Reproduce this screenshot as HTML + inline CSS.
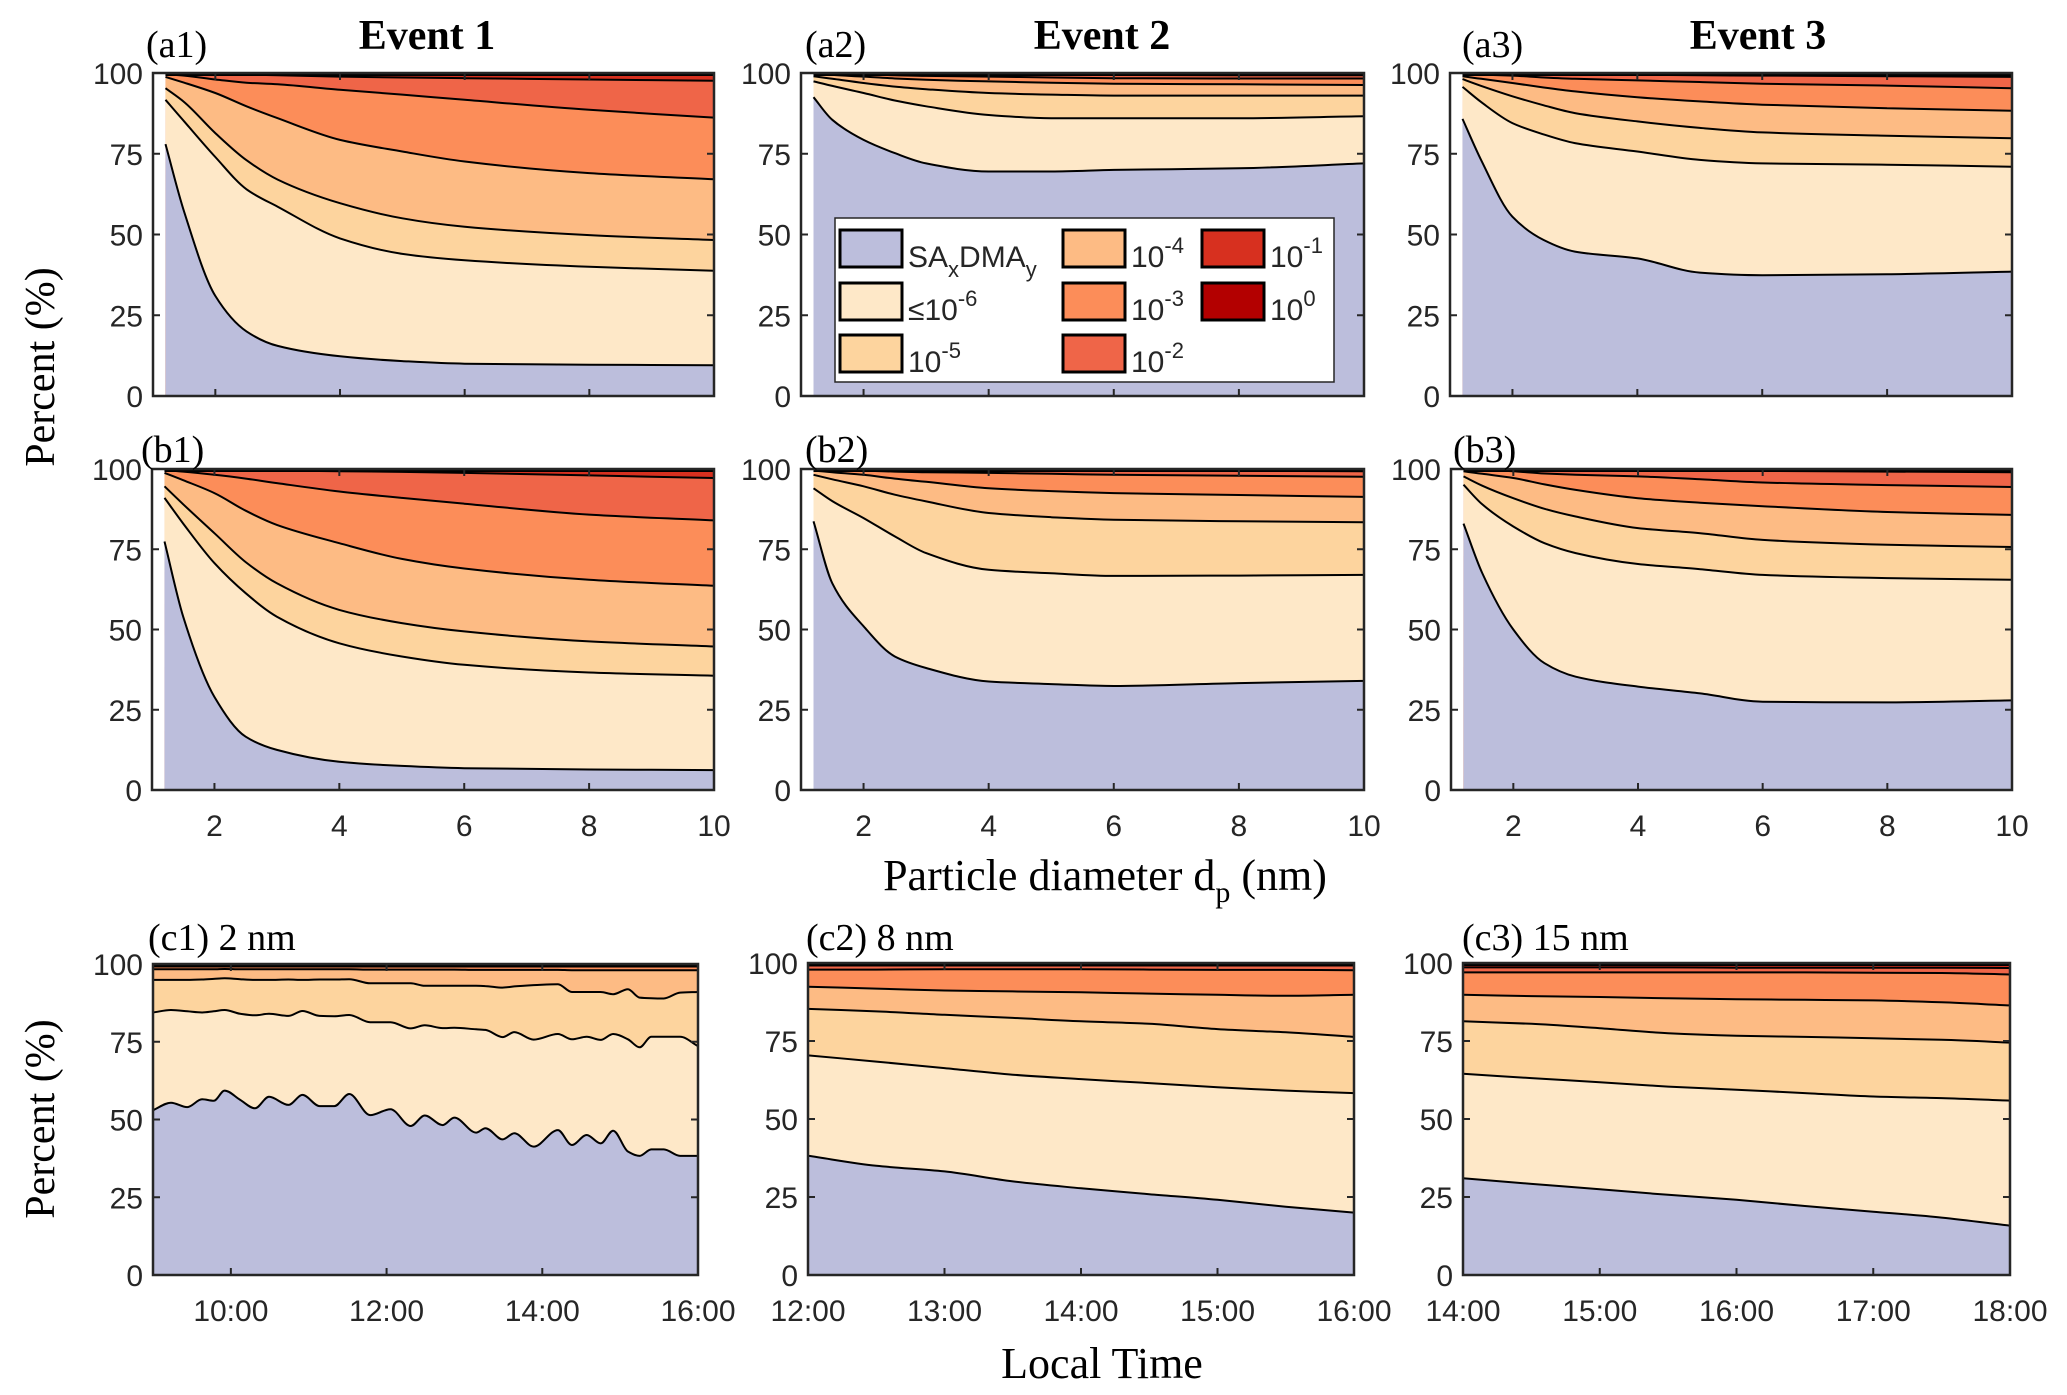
<!DOCTYPE html>
<html><head><meta charset="utf-8">
<style>
html,body{margin:0;padding:0;background:#fff;}
svg{display:block;}
.tk{font-family:"Liberation Sans",Arial,sans-serif;font-size:30px;fill:#262626;}
.tm{font-family:"Liberation Serif","Times New Roman",serif;fill:#000;}
</style></head>
<body>
<svg id="fig" width="2067" height="1395" viewBox="0 0 2067 1395" xmlns="http://www.w3.org/2000/svg">
<g id="plots"></g>
<g id="labels">
<text class="tm" x="427" y="49" font-size="42" font-weight="bold" text-anchor="middle">Event 1</text>
<text class="tm" x="1102" y="49" font-size="42" font-weight="bold" text-anchor="middle">Event 2</text>
<text class="tm" x="1758" y="49" font-size="42" font-weight="bold" text-anchor="middle">Event 3</text>
<text class="tm" x="146" y="57" font-size="38">(a1)</text>
<text class="tm" x="805" y="57" font-size="38">(a2)</text>
<text class="tm" x="1462" y="57" font-size="38">(a3)</text>
<text class="tm" x="141" y="462" font-size="38">(b1)</text>
<text class="tm" x="805" y="462" font-size="38">(b2)</text>
<text class="tm" x="1453" y="462" font-size="38">(b3)</text>
<text class="tm" x="148" y="950" font-size="38">(c1) 2 nm</text>
<text class="tm" x="806" y="950" font-size="38">(c2) 8 nm</text>
<text class="tm" x="1462" y="950" font-size="38">(c3) 15 nm</text>
<text class="tm" font-size="42" text-anchor="middle" transform="translate(54,367) rotate(-90)">Percent (%)</text>
<text class="tm" font-size="42" text-anchor="middle" transform="translate(54,1119) rotate(-90)">Percent (%)</text>
<text class="tm" x="1105" y="890" font-size="44" text-anchor="middle">Particle diameter d<tspan dy="12" font-size="30">p</tspan><tspan dy="-12"> (nm)</tspan></text>
<text class="tm" x="1102" y="1378" font-size="44" text-anchor="middle">Local Time</text>
</g>
<g id="legend"></g>
</svg>
<script>
// ---------- data ----------
const colors = ["#bcbedc","#fee8c8","#fdd49e","#fdbb84","#fc8d59","#ef6548","#d7301f","#b30000"];
const dpX = [1.2,1.5,2,2.5,3,4,5,6,8,10];
const dpTicks = [2,4,6,8,10];
const yTicks = [0,25,50,75,100];
const a1 = [
 [78,57,31,20,15.5,12.3,10.8,10,9.7,9.5],
 [91.7,85,74,64,58.6,48.8,44,42,40,38.8],
 [95.3,91,81.4,73,67,59.7,55,52.4,49.8,48.3],
 [98.8,97,93.8,89.7,86,79.3,75.7,72.6,69,67.1],
 [99.6,99.2,98,97,96.5,94.8,93.3,91.7,88.6,86.2],
 [100,99.9,99.7,99.5,99.3,98.9,98.6,98.4,98,97.6],
 [100,100,100,99.9,99.9,99.8,99.7,99.6,99.5,99.4]];
const a2 = [
 [92.5,85.5,79.3,75.2,72,69.5,69.5,70,70.5,72],
 [97.4,96,93.8,91.5,89.7,87,86,86,86,86.6],
 [99,98.2,96.9,95.8,95,93.8,93.3,93,93,93],
 [99.8,99.4,98.9,98.3,97.9,97.4,97,96.7,96.5,96.3],
 [100,99.9,99.6,99.3,99.1,98.9,98.6,98.4,98.3,98.3],
 [100,100,99.9,99.8,99.7,99.6,99.5,99.4,99.3,99.3],
 [100,100,100,99.9,99.9,99.8,99.8,99.7,99.7,99.7]];
const a3 = [
 [85.8,73,55.5,48.3,44.7,42.6,38.2,37.4,37.7,38.5],
 [95.7,91,84.5,81,78.3,75.7,73.1,72,71.6,71],
 [98.1,96,92.8,90,87.6,85,83,81.6,80.6,79.8],
 [99,98.2,96.9,95.5,94.3,92.5,91.2,90.2,89.1,88.3],
 [99.7,99.5,99.2,98.6,98.2,97.7,97.2,96.7,96.1,95.3],
 [100,100,99.9,99.8,99.7,99.5,99.3,99.2,99,98.8],
 [100,100,100,99.9,99.9,99.8,99.7,99.7,99.6,99.5]];
const b1 = [
 [77.4,54,29,16.6,12.5,8.8,7.5,6.8,6.4,6.2],
 [91,83,70.7,61.3,54,45.7,41.6,39,36.6,35.6],
 [94.6,89,80,71,64.4,56.1,52,49.4,46.3,44.7],
 [98.8,96.5,92.5,87,82.6,76.9,72,69,65.5,63.6],
 [99.7,99.2,98.2,97,95.6,93,91,89.2,85.8,84],
 [100,100,99.9,99.7,99.5,99.3,99.1,98.8,98,97.2],
 [100,100,100,100,99.9,99.9,99.8,99.8,99.7,99.6]];
const b2 = [
 [83.7,64.4,51,41.6,38,33.8,33,32.4,33.3,34],
 [94,90,84.7,79,73.8,68.6,67.5,66.7,66.8,67],
 [98.2,96.8,94.6,92,89.9,86.3,85,84.2,83.7,83.4],
 [99.5,99,98.2,97,96,94,93.1,92.5,91.9,91.3],
 [100,99.8,99.5,99.2,99,98.8,98.5,98.2,97.9,97.6],
 [100,100,100,99.9,99.8,99.7,99.6,99.5,99.4,99.3],
 [100,100,100,100,99.9,99.9,99.8,99.8,99.7,99.7]];
const b3 = [
 [83,67.6,50,39.5,35.3,32.2,30.1,27.5,27.3,27.9],
 [95.1,89,82.1,76.9,73.8,70.4,68.8,67,66,65.5],
 [97.7,94.8,90.9,87.6,85.2,81.6,80,77.9,76.4,75.7],
 [99.3,98.5,97.2,95.2,93.5,90.9,89.5,88.4,86.6,85.7],
 [100,99.8,99.3,98.6,98.2,97.7,96.8,95.8,95,94.4],
 [100,100,99.9,99.8,99.7,99.6,99.5,99.4,99.2,99],
 [100,100,100,100,99.9,99.9,99.8,99.8,99.7,99.6]];
const c1Time = [9.0,9.23,9.44,9.63,9.78,9.92,10.12,10.31,10.49,10.74,10.92,11.14,11.33,11.52,11.79,12.05,12.31,12.49,12.72,12.87,13.15,13.27,13.49,13.64,13.89,14.2,14.38,14.57,14.75,14.91,15.1,15.25,15.4,15.56,15.77,16.0];
const c1Blue = [53,55.4,54,56.5,56,59.3,56.3,53.6,57.3,54.7,57.9,54.3,54.3,58.2,51.4,53.3,47.9,51.3,48.2,50.6,45.8,47.2,43.6,45.6,41.3,46.6,41.8,45,42.3,46.4,39.7,38.3,40.4,40.4,38.3,38.3];
const c1B2 = [84.4,85.2,84.8,84.4,84.8,85.2,84,83.5,84,83.3,84.9,83.3,83.2,83.6,81.3,81.3,79.3,80.3,79.4,79.5,79,78.8,76.5,78.1,75.7,77.5,75.8,76.6,75.6,77.5,75.8,73.2,76.6,76.6,76.6,73.6];
const c1B3 = [94.9,94.9,94.9,95,95.2,95.4,95.1,94.9,94.9,95,94.9,95,95,95.1,93.8,93.8,93.8,93,93,93,93,92.9,92.4,92.8,93.2,93.5,91,91,91,90.3,91.9,89.2,89,88.9,90.8,91];
const c1B4 = [98.3,98.3,98.3,98.3,98.3,98.4,98.3,98.3,98.3,98.3,98.3,98.3,98.3,98.3,98.2,98.2,98.2,98.2,98.2,98.2,98.1,98.1,98.1,98.1,98.1,98.1,98,98,98,98,98,98,98,98,98,98];
const c2Time = [12,12.5,13,13.5,14,14.5,15,15.5,16];
const c2 = [
 [38.2,35,33.2,30,27.8,25.9,24.1,21.9,20],
 [70.4,68.4,66.3,64.2,62.8,61.5,60.2,59.1,58.3],
 [85.3,84.5,83.4,82.4,81.3,80.5,78.8,77.8,76.3],
 [92.4,91.8,91.2,90.9,90.6,90.2,89.8,89.5,89.8],
 [97.9,97.9,98,98,98,97.9,97.8,97.8,97.7],
 [99.2,99.2,99.2,99.2,99.2,99.2,99.2,99.2,99.2],
 [99.7,99.7,99.7,99.7,99.7,99.7,99.7,99.7,99.7]];
const c3Time = [14,14.5,15,15.5,16,16.5,17,17.5,18];
const c3 = [
 [31,29.2,27.5,25.7,24.1,22.1,20.3,18.4,15.8],
 [64.5,63.1,61.8,60.4,59.4,58.3,57.2,56.7,55.9],
 [81.3,80.5,79.1,77.5,76.7,76.3,75.9,75.4,74.5],
 [89.8,89.4,89.1,88.7,88.4,88.2,88,87.4,86.4],
 [97,97,97,97,97,97,96.9,96.8,96.3],
 [98.6,98.6,98.6,98.6,98.5,98.5,98.5,98.5,98.4],
 [99.5,99.5,99.5,99.5,99.5,99.5,99.5,99.5,99.5]];
const c1Flat5 = 99.2, c1Flat6 = 99.6, c1Flat7 = 99.85;
const c2Ticks = [12,13,14,15,16], c3Ticks = [14,15,16,17,18], c1Ticks = [10,12,14,16];

// ---------- drawing ----------
const NS = "http://www.w3.org/2000/svg";
const root = document.getElementById('plots');
function el(tag, attrs, parent){const e=document.createElementNS(NS,tag);for(const k in attrs)e.setAttribute(k,attrs[k]);(parent||root).appendChild(e);return e;}
// monotone cubic (Fritsch-Carlson) in x
function smooth(pts){
  const n=pts.length, dx=[], m=[], t=new Array(n);
  for(let i=0;i<n-1;i++){dx[i]=pts[i+1][0]-pts[i][0];m[i]=(pts[i+1][1]-pts[i][1])/dx[i];}
  t[0]=m[0]; t[n-1]=m[n-2];
  for(let i=1;i<n-1;i++){
    if(m[i-1]*m[i]<=0) t[i]=0;
    else { const w1=2*dx[i]+dx[i-1], w2=dx[i]+2*dx[i-1]; t[i]=(w1+w2)/(w1/m[i-1]+w2/m[i]); }
  }
  let d="M"+pts[0][0].toFixed(1)+","+pts[0][1].toFixed(1);
  for(let i=0;i<n-1;i++){
    const h=dx[i]/3;
    d+=" C"+(pts[i][0]+h).toFixed(1)+","+(pts[i][1]+t[i]*h).toFixed(1)+" "+(pts[i+1][0]-h).toFixed(1)+","+(pts[i+1][1]-t[i+1]*h).toFixed(1)+" "+pts[i+1][0].toFixed(1)+","+pts[i+1][1].toFixed(1);
  }
  return d;
}
function panel(name, box, xs, bounds, xmin, xmax, ticks, tickLabels, showLabels){
  const [L,T,R,B]=box;
  const g = el('g',{});
  
  
  const sx = v => L + (v - xmin)/(xmax - xmin)*(R-L);
  const sy = v => B - v/100*(B-T);
  const x0 = sx(xs[0]), x1 = sx(xs[xs.length-1]);
  const top = el('rect',{x:x0,y:T,width:x1-x0,height:B-T,fill:colors[7]},g);
  
  
  for(let k=bounds.length-1;k>=0;k--){
    const pts = xs.map((x,i)=>[sx(x),sy(bounds[k][i])]);
    const a = el('path',{d:smooth(pts)+" L"+x1+","+B+" L"+x0+","+B+" Z",fill:colors[k]},g);
    
    
  }
  for(let k=0;k<bounds.length;k++){
    const pts = xs.map((x,i)=>[sx(x),sy(bounds[k][i])]);
    const ln = el('path',{d:smooth(pts),fill:'none',stroke:'#000','stroke-width':2},g);
    
    
  }
  el('line',{x1:x0,y1:T+1.5,x2:x1,y2:T+1.5,stroke:'#000','stroke-width':3},g);
  const bx = el('rect',{x:L,y:T,width:R-L,height:B-T,fill:'none',stroke:'#262626','stroke-width':2.5},g);
  
  
  yTicks.forEach(v=>{
    const y=sy(v);
    el('line',{x1:L,y1:y,x2:L+7,y2:y,stroke:'#262626','stroke-width':2},g);
    el('line',{x1:R-7,y1:y,x2:R,y2:y,stroke:'#262626','stroke-width':2},g);
    const t=el('text',{x:L-10,y:y+11,'text-anchor':'end',class:'tk'},g);
    t.textContent=v;
    
    
  });
  ticks.forEach((v,i)=>{
    const x=sx(v);
    el('line',{x1:x,y1:B,x2:x,y2:B-7,stroke:'#262626','stroke-width':2},g);
    el('line',{x1:x,y1:T,x2:x,y2:T+7,stroke:'#262626','stroke-width':2},g);
    if(showLabels){
      const t=el('text',{x:x,y:B+46,'text-anchor':'middle',class:'tk'},g);
      t.textContent=tickLabels[i];
      
      
    }
  });
}
const dpLabels = dpTicks.map(String);
panel('a1',[153,73,714,396],dpX,a1,1,10,dpTicks,dpLabels,false);
panel('a2',[801,73,1364,396],dpX,a2,1,10,dpTicks,dpLabels,false);
panel('a3',[1450,73,2012,396],dpX,a3,1,10,dpTicks,dpLabels,false);
panel('b1',[152,469,714,790],dpX,b1,1,10,dpTicks,dpLabels,true);
panel('b2',[801,469,1364,790],dpX,b2,1,10,dpTicks,dpLabels,true);
panel('b3',[1451,469,2012,790],dpX,b3,1,10,dpTicks,dpLabels,true);
const hh = v => v+":00";
const c1Bounds = [c1Blue,c1B2,c1B3,c1B4,c1Time.map(()=>c1Flat5),c1Time.map(()=>c1Flat6),c1Time.map(()=>c1Flat7)];
panel('c1',[153,964,698,1275],c1Time,c1Bounds,9,16,c1Ticks,c1Ticks.map(hh),true);
panel('c2',[808,963,1354,1275],c2Time,c2,12,16,c2Ticks,c2Ticks.map(hh),true);
panel('c3',[1463,963,2010,1275],c3Time,c3,14,18,c3Ticks,c3Ticks.map(hh),true);

// legend
const lg = document.getElementById('legend');
el('rect',{x:835,y:218,width:499,height:164,fill:'#fff',stroke:'#262626','stroke-width':1.5},lg);
const legPos = [[840,230],[840,283],[840,335],[1063,230],[1063,283],[1063,335],[1202,230],[1202,283]];
const legMain = ["SA","≤10","10","10","10","10","10","10"];
const legSup = ["","-6","-5","-4","-3","-2","-1","0"];
legPos.forEach((p,i)=>{
  const sw = el('rect',{x:p[0],y:p[1],width:62,height:37,fill:colors[i],stroke:'#000','stroke-width':3},lg);
  
  
  const t = el('text',{x:p[0]+68,y:p[1]+37,class:'tk','font-size':'32'},lg);
  
  
  if(i===0){
    t.innerHTML = 'SA<tspan dy="10" font-size="22">x</tspan><tspan dy="-10">DMA</tspan><tspan dy="10" font-size="22">y</tspan>';
  } else {
    t.innerHTML = legMain[i]+'<tspan dy="-14" font-size="22">'+legSup[i]+'</tspan>';
  }
});
</script>
</body></html>
